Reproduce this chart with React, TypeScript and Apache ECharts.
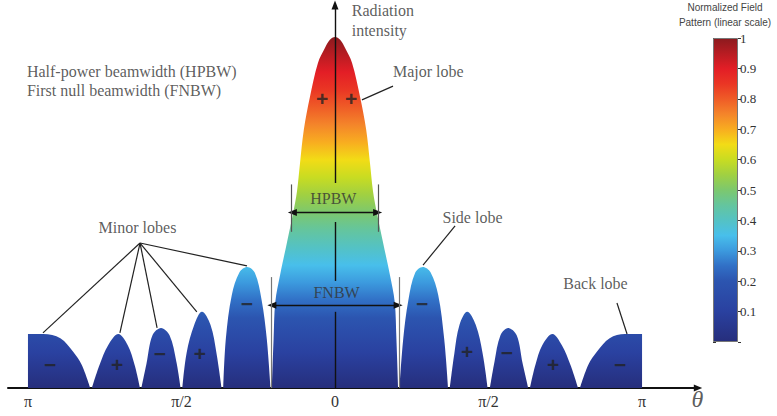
import React, { useEffect, useRef } from 'react';
import * as echarts from 'echarts';

const SERIF = 'Times New Roman, Liberation Serif, serif';
const SANS = 'Arial, Liberation Sans, sans-serif';

// ---- Pattern lobes: [theta in degrees, normalized field] ----
const backLobeLeft = [[-180, 0.154], [-171, 0.154], [-161, 0.142], [-153.5, 0.103], [-148.5, 0.066], [-143.5, 0]];
const minorLobe4Left = [[-142.5, 0], [-138, 0.066], [-133, 0.122], [-127, 0.154], [-121.5, 0.122], [-117.5, 0.066], [-114.3, 0]];
const minorLobe3Left = [[-113.5, 0], [-110.5, 0.07], [-107, 0.15], [-102, 0.171], [-97, 0.15], [-93, 0.075], [-90.5, 0]];
const minorLobe2Left = [[-89.5, 0], [-87, 0.1], [-82.5, 0.18], [-78, 0.217], [-73, 0.18], [-69.5, 0.1], [-66.5, 0]];
const sideLobeLeft = [[-65.5, 0], [-64, 0.14], [-60.5, 0.265], [-56, 0.33], [-51.5, 0.345], [-47, 0.328], [-43, 0.25], [-40, 0.14], [-37.8, 0]];
const majorLobe = [[-37, 0], [-36, 0.14], [-35, 0.245], [-32.2, 0.322], [-28.1, 0.416], [-24.5, 0.5], [-22.3, 0.56], [-20.5, 0.641], [-18.3, 0.735], [-14.7, 0.829], [-10, 0.926], [-6, 0.968], [-3, 0.992], [0, 1], [3, 0.992], [6, 0.968], [10, 0.926], [14.7, 0.829], [18.3, 0.735], [20.5, 0.641], [22.3, 0.56], [24.5, 0.5], [28.1, 0.416], [32.2, 0.322], [35, 0.245], [36, 0.14], [37, 0]];
const sideLobeRight = [[37.8, 0], [40, 0.14], [43, 0.25], [47, 0.328], [51.5, 0.345], [56, 0.33], [60.5, 0.265], [64, 0.14], [66.3, 0]];
const minorLobe2Right = [[67.3, 0], [70, 0.1], [73, 0.18], [77.5, 0.217], [82.5, 0.18], [86.5, 0.1], [89.5, 0]];
const minorLobe3Right = [[90.8, 0], [93.5, 0.075], [97, 0.15], [101.5, 0.171], [106.5, 0.15], [110, 0.07], [113.3, 0]];
const minorLobe4Right = [[114.3, 0], [117.5, 0.066], [121.5, 0.122], [127.5, 0.154], [133, 0.122], [138, 0.066], [142.5, 0]];
const backLobeRight = [[143.6, 0], [148.5, 0.066], [153.5, 0.103], [161, 0.142], [170, 0.154], [180, 0.154]];

const lobes = [backLobeLeft, minorLobe4Left, minorLobe3Left, minorLobe2Left, sideLobeLeft, majorLobe,
  sideLobeRight, minorLobe2Right, minorLobe3Right, minorLobe4Right, backLobeRight];

// ---- Colour scale (normalized field -> colour) ----
const fieldLevels = [0, 0.1, 0.2, 0.25, 0.3, 0.35, 0.4, 0.45, 0.5, 0.55, 0.6, 0.65, 0.7, 0.75, 0.8, 0.85, 0.9, 0.95, 1];
const levelColors = ['#262e7c', '#2a41a0', '#2c55b0', '#3170c6', '#3c9ade', '#48bfeb', '#54c2c4', '#64c59e', '#7cc86e', '#a0d042', '#c8dc22', '#f2dc16', '#f8ad20', '#f4852a', '#ef5c27', '#ea3624', '#e31e26', '#b81c22', '#8c1a1e'];

// ---- Axis ticks ----
const thetaTicks = [-180, -90, 0, 90, 180];
const thetaTickLabels = ['π', 'π/2', '0', 'π/2', 'π'];

// ---- Lobe signs ----
const lobeSigns = ['−', '+', '−', '+', '−', '+', '+', '−', '+', '−', '+', '−'];
const lobeSignAt = [[-167, 0.066], [-127.8, 0.066], [-102.6, 0.097], [-79.2, 0.097], [-51.6, 0.24], [-7.6, 0.826], [9.4, 0.826], [51, 0.24], [77.4, 0.103], [100.8, 0.1], [127.8, 0.066], [167.1, 0.066]];

// ---- Callouts ----
const calloutTexts = ['Radiation\nintensity', 'Major lobe', 'Half-power beamwidth (HPBW)\nFirst null beamwidth (FNBW)', 'Minor lobes', 'Side lobe', 'Back lobe', 'HPBW', 'FNBW'];
const calloutAt = [[9.8, 1.048], [34, 0.903], [-180.6, 0.875], [-115.8, 0.456], [80.6, 0.487], [152.7, 0.299], [-1, 0.541], [0.9, 0.271]];
const calloutLeftAligned = [true, true, true, false, false, false, false, false];

// leader lines [from, to]
const leaderLines = [
  [[34, 0.86], [15.8, 0.821]],
  [[-114.3, 0.413], [-171.2, 0.157]],
  [[-114.3, 0.413], [-126.1, 0.157]],
  [[-114.3, 0.413], [-104.3, 0.171]],
  [[-114.3, 0.413], [-81, 0.217]],
  [[-114.3, 0.413], [-51.6, 0.348]],
  [[70.4, 0.462], [51.6, 0.35]],
  [[165.3, 0.242], [171.2, 0.154]],
];

// beamwidth markers
const axisSegments = [[[0, 0.473], [0, 0.305]], [[0, 0.217], [0, 0]]];
const axisTopSegment = [[0, 0.584], [0, 1.091]];
const hpbwArrow = [[-25, 0.5], [25, 0.5]];
const hpbwGuides = [[[-25.6, 0.58], [-25.6, 0.445]], [[25.4, 0.58], [25.4, 0.445]]];
const fnbwArrow = [[-37, 0.236], [37, 0.236]];
const fnbwGuides = [[[-37.4, 0.316], [-37.4, 0]], [[37.4, 0.316], [37.4, 0]]];

const ARROW = 'path://M5,0L10,12L0,12Z';

export default function App() {
  const ref = useRef<HTMLDivElement>(null);
  useEffect(() => {
    const chart = echarts.init(ref.current!, null, { renderer: 'svg' });

    const stops = fieldLevels.map((v, i) => ({ offset: 1 - v, color: levelColors[i] })).reverse();
    const lobeGradient = new echarts.graphic.LinearGradient(0, 0, 0, 1, stops);
    const barGradient = new echarts.graphic.LinearGradient(0, 0, 0, 1, stops);

    const lobeData: any[] = [];
    lobes.forEach((l, i) => {
      if (i > 0) {
        const prev = lobes[i - 1];
        lobeData.push([(prev[prev.length - 1][0] + l[0][0]) / 2, '-']);
      }
      l.forEach((p) => lobeData.push(p));
    });

    const black = { color: '#111', width: 1.4, type: 'solid' };
    const leader = { color: '#222', width: 1.2, type: 'solid' };
    const guide = { color: '#777', width: 1.2, type: 'solid' };
    const seg = (a: number[], b: number[], style: any, s0 = 'none', s1 = 'none') => [
      { coord: a, symbol: s0, symbolSize: [7, 9], lineStyle: style },
      { coord: b, symbol: s1, symbolSize: [7, 9] },
    ];
    const markLines: any[] = [];
    markLines.push(seg(axisTopSegment[0], axisTopSegment[1], black, 'none', ARROW));
    axisSegments.forEach((s) => markLines.push(seg(s[0], s[1], black)));
    markLines.push(seg(hpbwArrow[0], hpbwArrow[1], black, ARROW, ARROW));
    markLines.push(seg(fnbwArrow[0], fnbwArrow[1], black, ARROW, ARROW));
    hpbwGuides.forEach((s) => markLines.push(seg(s[0], s[1], { ...guide, color: '#555' })));
    fnbwGuides.forEach((s) => markLines.push(seg(s[0], s[1], guide)));
    leaderLines.forEach((s) => markLines.push(seg(s[0], s[1], leader)));

    const calloutData = calloutTexts.map((t, i) => ({
      name: t,
      value: calloutAt[i],
      label: {
        align: calloutLeftAligned[i] ? 'left' : 'center',
        lineHeight: i === 0 ? 20 : 18.5,
        fontFamily: SERIF,
      },
    }));
    const signData = lobeSigns.map((s, i) => ({ name: s, value: lobeSignAt[i] }));

    const option: any = {
      animation: false,
      textStyle: { fontFamily: SERIF },
      grid: [
        { left: 8, right: 79, top: 1.9, bottom: 28, containLabel: false, outerBoundsMode: 'none' },
        { left: 713, width: 25, top: 38, height: 304, containLabel: false, outerBoundsMode: 'none' },
      ],
      xAxis: [
        {
          type: 'value', gridIndex: 0, min: -191.7, max: 212.8,
          axisLine: { show: true, onZero: true, symbol: ['none', ARROW], symbolSize: [7, 12], lineStyle: { color: '#111', width: 2 } },
          axisTick: { show: false },
          splitLine: { show: false },
          axisLabel: {
            customValues: thetaTicks,
            formatter: (v: number) => thetaTickLabels[thetaTicks.indexOf(Math.round(v))] ?? '',
            fontFamily: SERIF, fontSize: 16, color: '#333', margin: 5,
          },
        },
        { type: 'category', gridIndex: 1, data: [''], show: false },
      ],
      yAxis: [
        { type: 'value', gridIndex: 0, min: 0, max: 1.1, show: false },
        {
          type: 'value', gridIndex: 1, min: 0, max: 1, interval: 0.1, position: 'right',
          axisLine: { show: false },
          axisTick: { show: true, inside: false, length: 3, lineStyle: { color: '#333' } },
          splitLine: { show: false },
          axisLabel: {
            margin: 2, fontFamily: SERIF, fontSize: 13, color: '#333',
            formatter: (v: number) => (v < 0.05 ? '' : v > 0.95 ? '1' : v.toFixed(1)),
          },
        },
        {
          type: 'value', gridIndex: 1, min: 0, max: 1, interval: 0.1, position: 'left',
          axisLine: { show: false },
          axisTick: { show: true, inside: true, length: 3, lineStyle: { color: '#333' } },
          splitLine: { show: false },
          axisLabel: { show: false },
        },
      ],
      graphic: [
        {
          type: 'text', x: 725, y: 15,
          style: {
            text: 'Normalized Field\nPattern (linear scale)', align: 'center', verticalAlign: 'middle',
            fontFamily: SANS, fontSize: 10, lineHeight: 15.5, fill: '#444',
          },
        },
      ],
      series: [
        {
          type: 'line', xAxisIndex: 0, yAxisIndex: 0, data: lobeData, smooth: 0.35,
          showSymbol: false, symbol: 'none', connectNulls: false, silent: true, z: 2,
          lineStyle: { width: 0, opacity: 0 },
          areaStyle: { opacity: 1, color: lobeGradient },
        },
        {
          type: 'scatter', xAxisIndex: 0, yAxisIndex: 0, data: signData, symbol: 'circle', symbolSize: 0,
          clip: false, silent: true, z: 4,
          label: { show: true, position: 'inside', formatter: '{b}', fontFamily: SANS, fontWeight: 'bold', fontSize: 21, color: '#222', align: 'center', verticalAlign: 'middle' },
        },
        {
          type: 'scatter', xAxisIndex: 0, yAxisIndex: 0, data: calloutData, symbol: 'circle', symbolSize: 0,
          clip: false, silent: true, z: 5,
          label: { show: true, position: 'inside', formatter: '{b}', fontFamily: SERIF, fontSize: 16, color: '#333', verticalAlign: 'middle' },
          markLine: {
            silent: true, animation: false, symbol: ['none', 'none'], label: { show: false },
            emphasis: { disabled: true },
            data: markLines,
          },
        },
        {
          type: 'scatter', xAxisIndex: 0, yAxisIndex: 0, data: [{ name: 'θ', value: [212.5, -0.031] }],
          symbol: 'circle', symbolSize: 0, clip: false, silent: true, z: 5,
          label: { show: true, position: 'inside', formatter: '{b}', fontFamily: SERIF, fontStyle: 'italic', fontSize: 24, color: '#333' },
        },
        {
          type: 'bar', xAxisIndex: 1, yAxisIndex: 1, data: [1], barWidth: '100%', silent: true,
          itemStyle: { color: barGradient, borderColor: '#777', borderWidth: 1 },
        },
      ],
    };
    chart.setOption(option);
    return () => chart.dispose();
  }, []);
  return <div ref={ref} style={{ position: 'absolute', left: 0, top: 0, width: 777, height: 416 }} />;
}
